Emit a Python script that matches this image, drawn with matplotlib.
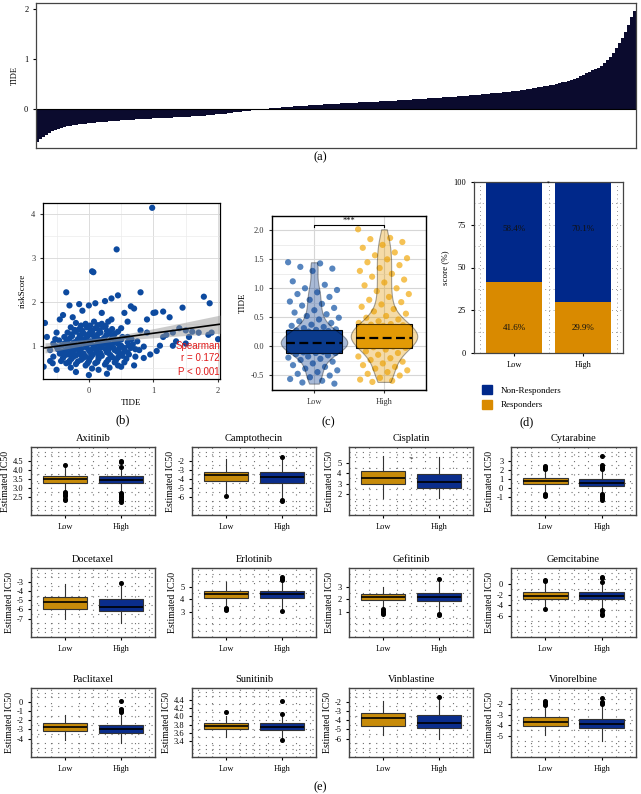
import numpy as np
import matplotlib.pyplot as plt
from matplotlib.patches import Patch

plt.rcParams['font.family'] = ['Liberation Serif', 'DejaVu Serif']
plt.rcParams['axes.linewidth'] = 0.9

W, H = 641, 794

# (a) sorted TIDE values read along the waterfall
tide_sorted = [
    -0.66, -0.6, -0.55, -0.51, -0.47, -0.44, -0.41, -0.39, -0.37, -0.355,
    -0.34, -0.33, -0.32, -0.31, -0.30, -0.295, -0.29, -0.28, -0.275, -0.27,
    -0.26, -0.255, -0.25, -0.245, -0.24, -0.235, -0.23, -0.225, -0.22, -0.215,
    -0.21, -0.207, -0.204, -0.2, -0.197, -0.194, -0.19, -0.187, -0.184, -0.18,
    -0.178, -0.175, -0.172, -0.17, -0.167, -0.164, -0.161, -0.158, -0.155, -0.152,
    -0.149, -0.145, -0.141, -0.137, -0.133, -0.129, -0.124, -0.119, -0.114, -0.108,
    -0.102, -0.096, -0.09, -0.083, -0.076, -0.069, -0.062, -0.055, -0.048, -0.04,
    -0.032, -0.025, -0.018, -0.011, -0.004, 0.003, 0.01, 0.016, 0.022, 0.027,
    0.032, 0.037, 0.042, 0.046, 0.05, 0.054, 0.058, 0.062, 0.066, 0.07,
    0.074, 0.078, 0.082, 0.086, 0.09, 0.094, 0.098, 0.102, 0.106, 0.11,
    0.113, 0.116, 0.119, 0.122, 0.125, 0.128, 0.131, 0.134, 0.137, 0.14,
    0.143, 0.146, 0.149, 0.152, 0.155, 0.158, 0.161, 0.164, 0.167, 0.17,
    0.174, 0.178, 0.182, 0.186, 0.19, 0.194, 0.198, 0.202, 0.206, 0.21,
    0.214, 0.218, 0.222, 0.226, 0.23, 0.234, 0.238, 0.242, 0.246, 0.25,
    0.255, 0.26, 0.265, 0.27, 0.275, 0.28, 0.285, 0.29, 0.295, 0.3,
    0.306, 0.312, 0.318, 0.324, 0.33, 0.336, 0.342, 0.348, 0.354, 0.36,
    0.368, 0.376, 0.385, 0.394, 0.403, 0.412, 0.421, 0.43, 0.44, 0.45,
    0.46, 0.47, 0.48, 0.495, 0.51, 0.525, 0.54, 0.555, 0.57, 0.59,
    0.61, 0.635, 0.66, 0.69, 0.72, 0.75, 0.78, 0.8, 0.83, 0.87,
    0.92, 0.98, 1.05, 1.13, 1.22, 1.32, 1.42, 1.54, 1.68, 1.85, 1.97]

# (b) TIDE vs riskScore
b_points = [
    (0.98, 4.15), (0.43, 3.2), (0.05, 2.7), (0.07, 2.68), (-0.35, 2.22), (0.8, 2.22),
    (0.45, 2.15), (1.78, 2.12), (1.87, 1.97), (0.35, 2.08), (0.25, 2.02), (0.1, 1.97),
    (-0.3, 1.92), (-0.15, 1.95), (0.0, 1.92), (0.65, 1.9), (0.7, 1.85), (1.0, 1.75),
    (1.03, 1.76), (1.15, 1.78), (1.45, 1.87), (1.25, 1.65), (0.55, 1.75), (0.9, 1.6),
    (0.6, 1.55), (1.4, 1.4), (1.5, 1.35), (1.6, 1.32), (1.7, 1.3), (1.9, 1.3),
    (2.0, 1.15), (1.3, 1.3), (1.2, 1.25), (1.85, 1.25), (1.55, 1.2), (1.1, 1.0),
    (1.05, 0.88), (0.85, 0.72), (0.7, 0.55), (0.95, 0.8), (1.3, 1.0), (1.5, 1.05),
    (1.35, 1.1), (1.15, 1.2), (0.8, 1.35), (0.75, 1.1), (0.9, 1.3), (-0.68, 1.52),
    (-0.65, 1.2), (-0.55, 1.05), (-0.6, 0.9), (-0.5, 1.3), (-0.45, 1.6), (-0.4, 1.7),
    (-0.7, 0.52), (-0.5, 0.45), (0.0, 0.33), (0.28, 0.36), (-0.2, 0.4), (0.15, 0.45),
    (0.45, 0.55), (0.55, 0.62), (-0.6, 0.65), (-0.55, 0.75), (0.65, 0.95), (0.6, 1.2),
    (0.5, 1.4), (0.35, 1.6), (0.2, 1.75), (-0.25, 1.65), (-0.1, 1.8),
    (-0.35, 0.6), (-0.2, 0.58), (-0.05, 0.55), (0.1, 0.6), (0.25, 0.57), (0.4, 0.62),
    (-0.28, 0.5), (0.05, 0.48), (0.32, 0.5),
    (-0.4, 0.72), (-0.27, 0.7), (-0.12, 0.68), (0.02, 0.72), (0.15, 0.7), (0.3, 0.68),
    (0.45, 0.73), (0.58, 0.7),
    (-0.45, 0.82), (-0.32, 0.8), (-0.2, 0.78), (-0.08, 0.82), (0.06, 0.8), (0.18, 0.83),
    (0.33, 0.79), (0.48, 0.82), (0.62, 0.8),
    (-0.48, 0.92), (-0.36, 0.9), (-0.24, 0.88), (-0.12, 0.93), (0.0, 0.9), (0.12, 0.88),
    (0.26, 0.92), (0.4, 0.9), (0.55, 0.88), (0.72, 0.92),
    (-0.42, 1.0), (-0.3, 1.02), (-0.18, 0.98), (-0.06, 1.03), (0.08, 1.0), (0.2, 0.98),
    (0.34, 1.02), (0.5, 1.0), (0.68, 1.03), (0.85, 0.98),
    (-0.46, 1.12), (-0.34, 1.1), (-0.22, 1.08), (-0.1, 1.12), (0.03, 1.1), (0.16, 1.13),
    (0.3, 1.08), (0.44, 1.12), (0.6, 1.08),
    (-0.38, 1.2), (-0.26, 1.22), (-0.14, 1.18), (-0.02, 1.22), (0.11, 1.2), (0.24, 1.18),
    (0.38, 1.22), (0.52, 1.2),
    (-0.33, 1.3), (-0.2, 1.32), (-0.08, 1.28), (0.05, 1.32), (0.18, 1.3), (0.32, 1.28),
    (0.45, 1.32),
    (-0.28, 1.42), (-0.15, 1.38), (-0.03, 1.42), (0.1, 1.4), (0.22, 1.43), (0.36, 1.38),
    (-0.2, 1.52), (-0.05, 1.5), (0.08, 1.55), (0.2, 1.5), (0.3, 1.55),
    (-0.15, 0.85), (-0.05, 0.75), (0.1, 0.95), (0.22, 1.05), (-0.1, 1.15), (0.0, 0.65),
    (0.15, 0.75), (-0.25, 0.95), (0.28, 0.85), (0.05, 1.25), (-0.3, 0.65), (0.38, 0.95),
    (-0.38, 1.05), (0.45, 1.05), (0.55, 0.95),
    (-0.43, 0.65), (-0.31, 0.62), (-0.17, 0.64), (-0.02, 0.6), (0.13, 0.63), (0.27, 0.62),
    (0.42, 0.67), (-0.38, 0.77), (-0.24, 0.75), (-0.09, 0.72), (0.04, 0.76), (0.2, 0.77),
    (0.36, 0.74), (0.52, 0.77), (-0.41, 0.86), (-0.28, 0.85), (-0.13, 0.8), (0.02, 0.85),
    (0.14, 0.82), (0.3, 0.88), (0.44, 0.86), (-0.33, 0.95), (-0.19, 0.93), (-0.04, 0.96),
    (0.06, 0.93), (0.18, 0.95), (0.32, 0.97), (0.47, 0.94), (-0.36, 1.06), (-0.24, 1.05),
    (-0.12, 1.06), (0.01, 1.05), (0.14, 1.06), (0.27, 1.04), (0.4, 1.07), (-0.3, 1.16),
    (-0.17, 1.15), (-0.04, 1.17), (0.09, 1.15), (0.21, 1.14), (0.35, 1.16), (0.5, 1.14),
    (-0.27, 1.26), (-0.14, 1.24), (0.0, 1.27), (0.13, 1.25), (0.27, 1.24), (0.4, 1.27),
    (-0.22, 1.36), (-0.1, 1.34), (0.03, 1.36), (0.16, 1.35), (0.28, 1.34),
    (-0.12, 1.46), (0.02, 1.46), (0.14, 1.47), (0.26, 1.45),
    (-0.5, 0.98), (-0.52, 1.15), (0.62, 1.0), (0.66, 1.15), (0.72, 0.75), (0.78, 0.9),
    (-0.56, 0.6), (0.5, 0.52), (0.6, 0.85),
]
b_tide = np.array([p[0] for p in b_points])
b_risk = np.array([p[1] for p in b_points])

# (c) TIDE by risk group
groups = ['Low', 'High']
c_low = [1.45, 1.43, 1.37, 1.34, 1.3, 1.12, 1.06, 1.0, 0.97, 0.93, 0.9, 0.85, 0.8, 0.77,
         0.73, 0.7, 0.66, 0.62, 0.58, 0.55, 0.52, 0.49, 0.46, 0.43, 0.4, 0.37, 0.35, 0.33,
         0.31, 0.29,
         0.28, 0.27, 0.26, 0.25, 0.24, 0.23, 0.22, 0.21, 0.2, 0.19, 0.18, 0.17, 0.16, 0.15,
         0.14, 0.13, 0.12, 0.11, 0.1, 0.1, 0.09, 0.09, 0.08, 0.08, 0.07, 0.07, 0.07, 0.06,
         0.06, 0.06, 0.05, 0.05, 0.05, 0.04, 0.04, 0.03, 0.03, 0.02, 0.02, 0.01, 0.01, 0.0,
         0.0, -0.01, -0.02, -0.03, -0.04, -0.05, -0.06, -0.07, -0.08, -0.09, -0.1, -0.11,
         -0.12, -0.12,
         -0.14, -0.16, -0.18, -0.2, -0.22, -0.24, -0.27, -0.3, -0.33, -0.36, -0.39, -0.42,
         -0.45, -0.48, -0.51, -0.54, -0.57, -0.6, -0.63, -0.65]
c_high = [2.02, 1.87, 1.85, 1.8, 1.75, 1.7, 1.62, 1.57, 1.52, 1.5, 1.45, 1.4, 1.35, 1.3,
          1.25, 1.2, 1.15, 1.1, 1.05, 1.0, 0.95, 0.9, 0.85, 0.8, 0.76, 0.72, 0.68, 0.64,
          0.6, 0.56, 0.52, 0.49, 0.46, 0.43, 0.4,
          0.38, 0.37, 0.36, 0.35, 0.34, 0.33, 0.32, 0.31, 0.3, 0.29, 0.28, 0.27, 0.26, 0.25,
          0.24, 0.23, 0.22, 0.21, 0.2, 0.2, 0.19, 0.19, 0.18, 0.18, 0.17, 0.17, 0.16, 0.16,
          0.15, 0.15, 0.14, 0.14, 0.13, 0.13, 0.12, 0.11, 0.1, 0.09, 0.08, 0.07, 0.06, 0.05,
          0.04, 0.03, 0.02, 0.01, 0.0, -0.01, -0.02, -0.03,
          -0.06, -0.09, -0.12, -0.15, -0.18, -0.21, -0.24, -0.27, -0.3, -0.33, -0.36, -0.39,
          -0.42, -0.45, -0.48, -0.51, -0.55, -0.58, -0.6, -0.62]
c_box = [(-0.12, 0.06, 0.28), (-0.03, 0.14, 0.38)]  # q1, median, q3

# (d) response proportions
responders = [41.6, 29.9]
non_responders = [58.4, 70.1]

# (e) estimated IC50 box stats: (q1, median, q3, whisker low, whisker high)
drugs = ['Axitinib', 'Camptothecin', 'Cisplatin', 'Cytarabine',
         'Docetaxel', 'Erlotinib', 'Gefitinib', 'Gemcitabine',
         'Paclitaxel', 'Sunitinib', 'Vinblastine', 'Vinorelbine']
low_box = [(3.27, 3.48, 3.63, 2.8, 4.15), (-4.3, -3.6, -3.25, -5.8, -1.8),
           (3.0, 3.55, 4.2, 1.6, 5.6), (0.45, 0.8, 1.1, -0.5, 2.0),
           (-5.95, -5.15, -4.6, -7.0, -3.25), (4.1, 4.4, 4.65, 3.4, 5.35),
           (1.92, 2.2, 2.4, 1.3, 3.0), (-2.85, -2.2, -1.5, -4.5, 0.5),
           (-3.2, -2.7, -2.25, -4.2, -1.45), (3.68, 3.76, 3.84, 3.5, 4.0),
           (-4.6, -3.8, -3.25, -5.6, -1.95), (-4.1, -3.7, -3.25, -4.9, -2.3)]
high_box = [(3.27, 3.43, 3.65, 2.8, 4.1), (-4.45, -3.85, -3.3, -6.2, -1.7),
            (2.6, 3.2, 3.95, 1.6, 5.55), (0.25, 0.55, 1.0, -0.5, 2.0),
            (-6.2, -5.7, -4.9, -7.5, -3.2), (4.08, 4.4, 4.68, 3.35, 5.45),
            (1.85, 2.15, 2.5, 1.0, 3.5), (-2.85, -2.2, -1.55, -4.8, 0.3),
            (-3.4, -2.95, -2.5, -4.45, -1.3), (3.66, 3.74, 3.83, 3.47, 3.98),
            (-4.8, -4.3, -3.4, -6.0, -1.65), (-4.3, -3.85, -3.4, -5.5, -2.3)]
low_out = [[4.25, 2.75, 2.7, 2.6, 2.55, 2.4, 2.35], [-5.9],
           [], [2.1, 2.2, 2.3, 2.4, -0.65, -0.75, -0.85],
           [], [3.3, 3.2, 3.15],
           [1.2, 1.1, 1.0, 0.95, 0.85], [0.6, 0.8, -4.65],
           [], [4.1],
           [], [-1.75, -1.85, -2.0, -2.1]]
high_out = [[4.15, 4.4, 4.5, 2.7, 2.65, 2.55, 2.5, 2.4, 2.3, 2.2], [-1.55, -6.35, -6.5],
            [], [2.1, 2.2, 2.3, 2.5, 3.5, -0.7, -0.8, -0.95, -1.1, -1.3],
            [-3.1], [5.55, 5.65, 5.75, 3.1],
            [3.6, 0.8, 0.75], [0.4, 1.1, 1.3, -4.95, -5.05, -5.6, -5.8],
            [-1.1, -1.0, -0.9, -0.75, 0.05], [4.05, 4.38, 3.43],
            [-1.45], [-1.4, -1.85, -1.95, -2.05]]
y_ticks = [[2.5, 3.0, 3.5, 4.0, 4.5], [-6, -5, -4, -3, -2], [2, 3, 4, 5], [-1, 0, 1, 2, 3],
           [-7, -6, -5, -4, -3], [3, 4, 5], [1, 2, 3], [-6, -4, -2, 0],
           [-4, -3, -2, -1, 0], [3.4, 3.6, 3.8, 4.0, 4.2, 4.4], [-6, -5, -4, -3, -2],
           [-5, -4, -3, -2]]

navy = '#0a2d8c'
gold = '#c78b0a'


def px_axes(fig, l, t, r, b):
    return fig.add_axes([l / W, 1 - b / H, (r - l) / W, (b - t) / H])


def label(fig, x, y, s):
    fig.text(x / W, 1 - y / H, s, ha='center', va='center', fontsize=9)


fig = plt.figure(figsize=(W / 100, H / 100), dpi=100)

# ---- (a) waterfall
ax = px_axes(fig, 36, 3, 636, 148)
xa = np.arange(len(tide_sorted))
ax.bar(xa, tide_sorted, width=1.0, color='#0b0b2e', linewidth=0)
ax.axhline(0, color='black', lw=0.8)
ax.set_xlim(-0.5, len(tide_sorted) - 0.5)
ax.set_ylim(-0.77, 2.12)
ax.set_xticks([])
ax.set_yticks([0, 1, 2])
ax.tick_params(labelsize=6, length=2)
ax.set_ylabel('TIDE', fontsize=6, labelpad=4)
for s in ax.spines.values():
    s.set_color('#444444')
label(fig, 320, 157, '(a)')

# ---- (b) scatter with fit
ax = px_axes(fig, 43, 203, 220, 379)
ax.set_axisbelow(True)
ax.scatter(b_tide, b_risk, s=20, color='#0d4a9f', edgecolors='none', zorder=2)
slope, icpt = np.polyfit(b_tide, b_risk, 1)
xs = np.linspace(-0.68, 2.03, 60)
fit = icpt + slope * xs
resid = b_risk - (icpt + slope * b_tide)
n = len(b_tide)
s_err = np.sqrt(np.sum(resid ** 2) / (n - 2))
sxx = np.sum((b_tide - b_tide.mean()) ** 2)
band = 1.97 * s_err * np.sqrt(1 / n + (xs - b_tide.mean()) ** 2 / sxx)
ax.fill_between(xs, fit - band, fit + band, color='#999999', alpha=0.5, lw=0, zorder=3)
ax.plot(xs, fit, color='black', lw=1.2, zorder=4)
ax.set_xlim(-0.71, 2.03)
ax.set_ylim(0.24, 4.26)
ax.set_xticks([0, 1, 2])
ax.set_yticks([1, 2, 3, 4])
ax.set_xticks([-0.5, 0.5, 1.5], minor=True)
ax.set_yticks([0.5, 1.5, 2.5, 3.5], minor=True)
ax.grid(which='major', color='#dcdcdc', lw=0.7)
ax.grid(which='minor', color='#ececec', lw=0.5)
ax.tick_params(which='major', labelsize=6, length=2, colors='#333333')
ax.tick_params(which='minor', length=0)
ax.set_xlabel('TIDE', fontsize=6.5, labelpad=3)
ax.set_ylabel('riskScore', fontsize=6.5, labelpad=3)
for yy, txt in zip([1.0, 0.71, 0.41], ['Spearman', 'r = 0.172', 'P < 0.001']):
    ax.text(2.03, yy, txt, ha='right', va='center', color='#e01b1b',
            family=['Liberation Sans', 'DejaVu Sans'], fontsize=7, zorder=5)
label(fig, 123, 420, '(b)')

# ---- (c) violin + box + jitter
ax = px_axes(fig, 272, 216, 426, 390)
ax.set_axisbelow(True)
pt_cols = ['#1f5ca8', '#f2ae1c']
box_cols = ['#0a3a8c', '#e39a05']
for i, vals in enumerate([c_low, c_high]):
    vals = np.array(vals)
    offs = ((np.arange(len(vals)) * 0.618034) % 1 - 0.5) * 0.74
    ax.scatter(i + 1 + offs, vals, s=20, color=pt_cols[i], alpha=0.75,
               edgecolors='none', zorder=1)
stats = [dict(q1=q1, med=md, q3=q3, whislo=q1, whishi=q3, fliers=[]) for q1, md, q3 in c_box]
bp = ax.bxp(stats, positions=[1, 2], widths=0.8, patch_artist=True, showcaps=False,
            boxprops=dict(lw=0.8, edgecolor='black'), medianprops=dict(lw=0),
            whiskerprops=dict(lw=0), zorder=2)
for patch, col in zip(bp['boxes'], box_cols):
    patch.set_facecolor(col)
vp = ax.violinplot([c_low, c_high], positions=[1, 2], widths=0.95,
                   showextrema=False, bw_method=0.32)
for body, col in zip(vp['bodies'], box_cols):
    body.set_facecolor(col)
    body.set_alpha(0.35)
    body.set_edgecolor('black')
    body.set_linewidth(0.8)
    body.set_zorder(3)
for i, (q1, md, q3) in enumerate(c_box):
    ax.plot([i + 0.6, i + 1.4], [md, md], color='black', lw=1.6, ls=(0, (4, 2)), zorder=4)
ax.plot([1, 1, 2, 2], [2.06, 2.1, 2.1, 2.06], color='black', lw=0.8)
ax.text(1.5, 2.1, '***', ha='center', va='bottom', fontsize=6)
ax.set_xlim(0.4, 2.6)
ax.set_ylim(-0.76, 2.25)
ax.set_xticks([1, 2])
ax.set_xticklabels(groups, fontsize=7)
ax.set_yticks([-0.5, 0.0, 0.5, 1.0, 1.5, 2.0])
ax.set_yticklabels(['-0.5', '0.0', '0.5', '1.0', '1.5', '2.0'])
ax.set_yticks(np.arange(-0.75, 2.3, 0.25), minor=True)
ax.grid(which='major', color='#d6d6d6', lw=0.8)
ax.grid(which='minor', axis='y', color='#e6e6e6', lw=0.5)
ax.tick_params(which='major', labelsize=6, length=2, colors='#333333')
ax.tick_params(which='minor', length=0)
ax.set_ylabel('TIDE', fontsize=6.5, labelpad=3)
for s in ax.spines.values():
    s.set_color('black')
    s.set_linewidth(1.0)
label(fig, 328, 422, '(c)')

# ---- (d) stacked bars
ax = px_axes(fig, 474, 182, 623, 353)
ax.set_axisbelow(True)
xd = np.arange(1, len(groups) + 1)
ax.bar(xd, responders, width=0.8, color='#d98a00', zorder=2)
ax.bar(xd, non_responders, width=0.8, bottom=responders, color='#00288a', zorder=2)
for xi, r, nr in zip(xd, responders, non_responders):
    ax.text(xi, 72.5, f'{nr}%', ha='center', va='center', fontsize=6.5, color='#111111')
    ax.text(xi, 14.6, f'{r}%', ha='center', va='center', fontsize=6.5, color='#111111')
ax.text(1.5, 99.5, '*', ha='center', va='center', fontsize=4)
ax.set_xlim(0.42, 2.58)
ax.set_ylim(0, 100)
ax.set_xticks(xd)
ax.set_xticklabels(groups, fontsize=7)
ax.set_yticks([0, 25, 50, 75, 100])
ax.set_yticks([12.5, 37.5, 62.5, 87.5], minor=True)
ax.set_xticks([0.5, 1.5, 2.5], minor=True)
ax.grid(which='both', color='#777777', lw=0.6, ls=(0, (1, 4)))
ax.tick_params(which='major', labelsize=6, length=2)
ax.tick_params(which='minor', length=0)
ax.set_ylabel('score (%)', fontsize=6.5, labelpad=3)
for s in ax.spines.values():
    s.set_color('#444444')
fig.legend(handles=[Patch(color='#00288a', label='Non-Responders'),
                    Patch(color='#d98a00', label='Responders')],
           loc='upper left', bbox_to_anchor=(474 / W, 1 - 377 / H), frameon=False,
           fontsize=6.5, handlelength=1.1, handleheight=1.1, labelspacing=0.6,
           handletextpad=1.0)
label(fig, 527, 422, '(d)')

# ---- (e) IC50 boxplots
cols = [(31, 155), (192, 316), (349, 473), (511, 636)]
rows = [(447, 515), (568, 637), (688, 757)]
for k, drug in enumerate(drugs):
    l, r = cols[k % 4]
    t, b = rows[k // 4]
    ax = px_axes(fig, l, t, r, b)
    ax.set_axisbelow(True)
    st = []
    for bx, fl in [(low_box[k], low_out[k]), (high_box[k], high_out[k])]:
        q1, md, q3, wl, wh = bx
        st.append(dict(q1=q1, med=md, q3=q3, whislo=wl, whishi=wh, fliers=fl))
    bp = ax.bxp(st, positions=[1, 2], widths=0.8, patch_artist=True, showcaps=False,
                boxprops=dict(lw=0.8, edgecolor='#333333'),
                medianprops=dict(color='black', lw=1.2),
                whiskerprops=dict(color='#333333', lw=0.8),
                flierprops=dict(marker='o', markerfacecolor='black',
                                markeredgecolor='black', markersize=2.6))
    for patch, col in zip(bp['boxes'], [gold, navy]):
        patch.set_facecolor(col)
    allv = [v for s_ in st for v in (s_['whislo'], s_['whishi'], *s_['fliers'])]
    lo, hi = min(allv), max(allv)
    pad = (hi - lo) * 0.04
    ax.set_ylim(lo - pad, hi + pad)
    ax.set_xlim(0.39, 2.61)
    ticks = y_ticks[k]
    step = ticks[1] - ticks[0]
    dec = 0 if float(step).is_integer() else 1
    ax.set_yticks(ticks)
    ax.set_yticklabels([f'{v:.{dec}f}' for v in ticks])
    ax.set_yticks(np.arange(ticks[0] - 2 * step, ticks[-1] + 2 * step, step / 2), minor=True)
    ax.set_xticks(np.arange(0.5, 2.6, 0.25), minor=True)
    ax.grid(which='minor', color='#6e6e6e', lw=0.8, ls=(0, (1, 5)))
    ax.set_xticks([1, 2])
    ax.set_xticklabels(groups, fontsize=7)
    ax.tick_params(which='major', labelsize=6, length=2)
    ax.tick_params(which='minor', length=0)
    ax.set_title(drug, fontsize=7.5, pad=4)
    ax.set_ylabel('Estimated IC50', fontsize=7, labelpad=2)
    for s in ax.spines.values():
        s.set_color('#444444')
        s.set_linewidth(1.0)
    if drug == 'Cisplatin':
        ax.text(1.5, 5.35, '*', ha='center', va='center', fontsize=5)
label(fig, 320, 787, '(e)')

fig.savefig('out.png', dpi=100)
